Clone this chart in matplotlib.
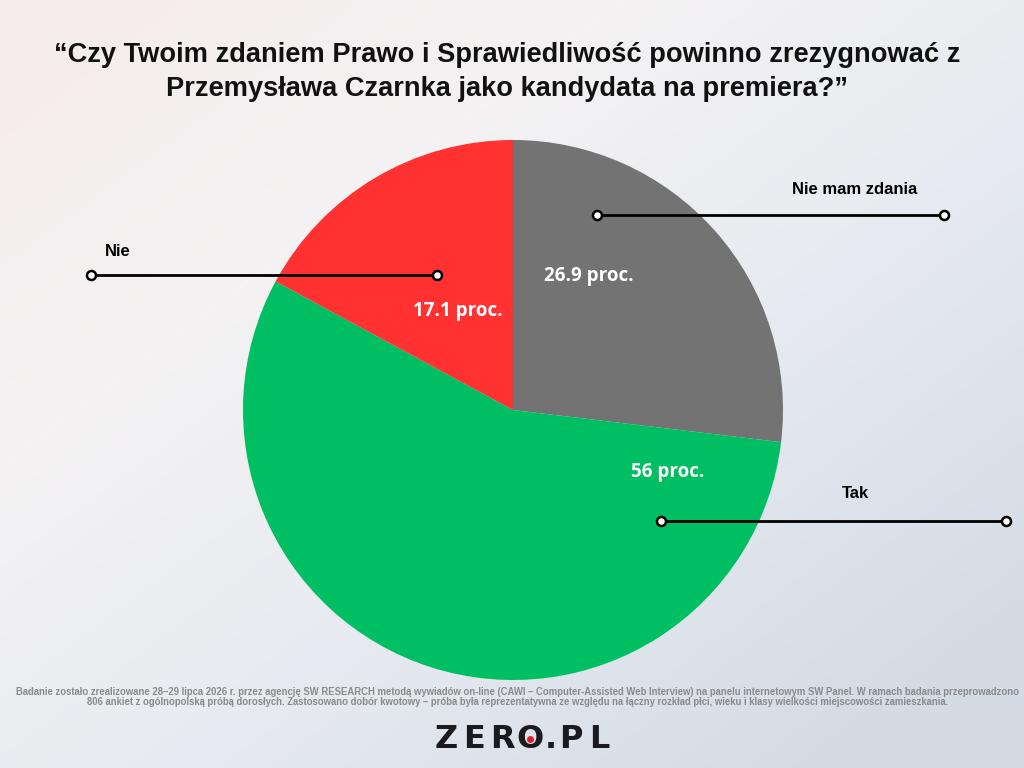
import numpy as np
import matplotlib
matplotlib.use("Agg")
import matplotlib.pyplot as plt
from matplotlib.colors import LinearSegmentedColormap

# ---- data ----
categories = ["Nie mam zdania", "Tak", "Nie"]
values = [26.9, 56.0, 17.1]
value_labels = ["26.9 proc.", "56 proc.", "17.1 proc."]
colors = ["#737373", "#00BF63", "#FF3131"]
title = "“Czy Twoim zdaniem Prawo i Sprawiedliwość powinno zrezygnować z\nPrzemysława Czarnka jako kandydata na premiera?”"
footer = ("Badanie zostało zrealizowane 28–29 lipca 2026 r. przez agencję SW RESEARCH metodą wywiadów on-line (CAWI – Computer-Assisted Web Interview) na panelu internetowym SW Panel. W ramach badania przeprowadzono\n"
          "806 ankiet z ogólnopolską próbą dorosłych. Zastosowano dobór kwotowy – próba była reprezentatywna ze względu na łączny rozkład płci, wieku i klasy wielkości miejscowości zamieszkania.")
logo = "ZERO.PL"

W, H = 1024, 768
fig = plt.figure(figsize=(W / 100, H / 100), dpi=100)
ax = fig.add_axes([0, 0, 1, 1])

# background gradient
yy, xx = np.mgrid[0:1:200j, 0:1:260j]
t = np.clip(0.55 * xx + 0.55 * (1 - yy), 0, 1)  # yy=0 bottom
cmap = LinearSegmentedColormap.from_list("bg", ["#f6ecec", "#f4f2f3", "#e6eaf0", "#d3dbe5"])
ax.imshow(t, extent=[0, W, 0, H], origin="lower", cmap=cmap, aspect="auto", zorder=0)

def Y(y):
    return H - y

# pie
cx, cy, r = 513, Y(410), 270
wedges, _ = ax.pie(values, colors=colors, startangle=90, counterclock=False,
                   center=(cx, cy), radius=r, frame=True,
                   wedgeprops=dict(linewidth=0))
for w in wedges:
    w.set_zorder(2)
ax.set_xlim(0, W)
ax.set_ylim(0, H)
ax.set_aspect("equal")
ax.axis("off")

lab_font = dict(family="Open Sans", fontweight="bold", fontsize=13.5, color="white", zorder=5)
label_pos = [(589, 276), (668, 472), (458, 311)]
for (x, y), s in zip(label_pos, value_labels):
    ax.text(x, Y(y), s, ha="center", va="center", **lab_font)

# leader lines
cat_font = dict(family="Liberation Sans", fontweight="bold", fontsize=12, color="black", zorder=5)
leaders = [  # (x0, x1, y, label_x, label_y)
    (597, 944, 215, 855, 189),
    (661, 1006, 521, 855, 493),
    (91, 437, 275, 118, 251),
]
for (x0, x1, y, lx, ly), name in zip(leaders, categories):
    ax.plot([x0, x1], [Y(y), Y(y)], color="black", lw=2, zorder=4,
            solid_capstyle="butt")
    ax.plot([x0, x1], [Y(y), Y(y)], ls="none", marker="o", ms=6.5, mfc="white",
            mec="black", mew=1.8, zorder=6)
    ax.text(lx, Y(ly), name, ha="center", va="center", **cat_font)

# title
ax.text(507, Y(72), title, ha="center", va="center", fontsize=19.6,
        family="Liberation Sans", fontweight="bold", color="#111111",
        linespacing=1.45, zorder=5)

# footer
ax.text(518, Y(697), footer, ha="center", va="center", fontsize=6.85,
        family="Liberation Sans", fontweight="bold", color="#8a8a8a",
        linespacing=1.1, zorder=5)

# logo (letters spread like the wordmark)
logo_x = [446, 474, 502, 530, 551, 571, 599]
for ch, x in zip(logo, logo_x):
    ax.text(x, Y(739), ch, ha="center", va="center", fontsize=23,
            family="DejaVu Sans", fontweight="bold", color="#1a1a1f", zorder=5)
ax.plot([530], [Y(739)], marker="o", ms=4, color="#e0202a", zorder=6)

fig.savefig("out.png", dpi=100)
